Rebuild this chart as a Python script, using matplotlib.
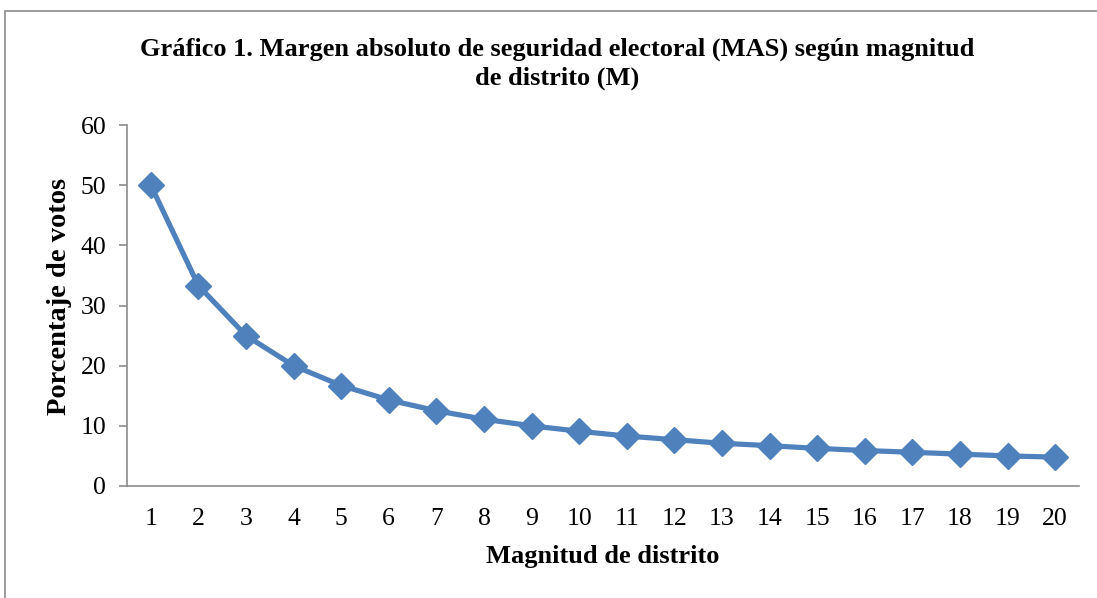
import matplotlib
matplotlib.use("Agg")
import matplotlib.pyplot as plt
from matplotlib.patches import Rectangle

# Data
magnitud = list(range(1, 21))
porcentaje = [50.0, 33.3, 25.0, 20.0, 16.7, 14.3, 12.5, 11.1, 10.0, 9.1,
              8.3, 7.7, 7.1, 6.7, 6.25, 5.9, 5.6, 5.3, 5.0, 4.8]
y_ticks = [0, 10, 20, 30, 40, 50, 60]

plt.rcParams['font.family'] = ['Liberation Serif', 'DejaVu Serif']

W, H = 1097, 598
fig = plt.figure(figsize=(W / 100, H / 100), dpi=100)

# outer chart border (right and bottom edges fall outside the picture)
fig.patches.append(Rectangle((5 / W, -0.05), 1.1, 1.05 - 11 / H,
                             transform=fig.transFigure, fill=False,
                             edgecolor='#8c8c8c', linewidth=1.2))

ax = fig.add_axes([127 / W, 1 - 486 / H, 952 / W, 361 / H])
ax.plot(magnitud, porcentaje, color='#4F81BD', linewidth=3.75,
        marker='D', markersize=13.5, markerfacecolor='#4F81BD',
        markeredgecolor='#4F81BD', clip_on=False)

ax.set_xlim(0.5, 20.5)
ax.set_ylim(0, 60)
ax.set_xticks(magnitud)
ax.set_yticks(y_ticks)
ax.tick_params(axis='x', length=0, pad=16, labelsize=18.5)
ax.tick_params(axis='y', length=6, width=1.2, color='#8c8c8c', pad=9, labelsize=18.5)

for s in ['top', 'right']:
    ax.spines[s].set_visible(False)
for s in ['left', 'bottom']:
    ax.spines[s].set_color('#8c8c8c')
    ax.spines[s].set_linewidth(1.2)

ax.set_xlabel('Magnitud de distrito', fontsize=19, fontweight='bold', va='center')
ax.set_ylabel('Porcentaje de votos', fontsize=20.5, fontweight='bold', va='center')
ax.xaxis.set_label_coords(0.5, (486 - 557) / 361)
ax.yaxis.set_label_coords((60 - 127) / 952, 0.525)

fig.text(557 / W, 1 - 64 / H,
         'Gráfico 1. Margen absoluto de seguridad electoral (MAS) según magnitud\nde distrito (M)',
         ha='center', va='center', fontsize=19, fontweight='bold', linespacing=1.32)

fig.savefig('out.png', dpi=100)
